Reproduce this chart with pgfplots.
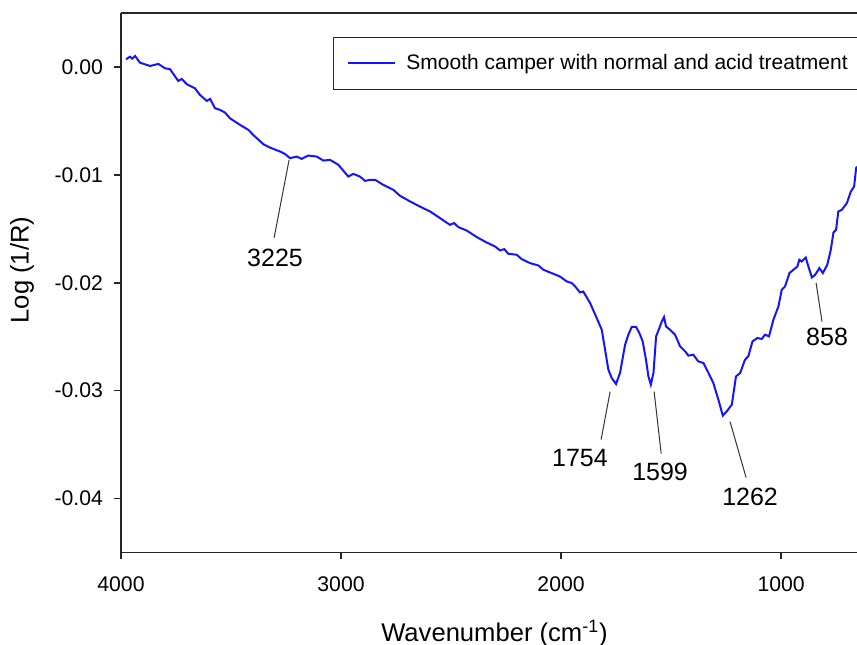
\documentclass[border=0pt]{standalone}
\usepackage{pgfplots}
\pgfplotsset{compat=1.18}
\usepackage{fontspec}
\setmainfont{Liberation Sans}
\begin{document}
\begin{tikzpicture}
\begin{axis}[
  scale only axis,
  width=368pt, height=269.75pt,
  x dir=reverse,
  xmin=655, xmax=4000,
  ymin=-0.045, ymax=0.005,
  axis x line*=box, axis y line*=left,
  xtick pos=bottom, ytick pos=left,
  axis line style={line width=0.8pt, black!85},
  tick style={line width=0.8pt, black!85},
  tick align=outside, major tick length=3.5pt,
  xtick={1000,2000,3000,4000},
  xticklabels={1000,2000,3000,4000},
  ytick={-0.04,-0.03,-0.02,-0.01,0},
  yticklabels={-0.04,-0.03,-0.02,-0.01,0.00},
  /pgf/number format/assume math mode=true,
  ticklabel style={font=\fontsize{10.6}{12}\selectfont},
  xticklabel style={yshift=-5pt},
  yticklabel style={xshift=-2pt},
  xlabel={Wavenumber (cm\textsuperscript{-1})},
  ylabel={Log (1/R)},
  label style={font=\fontsize{12.8}{15}\selectfont},
  xlabel style={at={(axis description cs:0.5075,0)}, anchor=center, yshift=-40.5pt},
  ylabel style={at={(axis description cs:0,0.5236)}, anchor=center, yshift=49.5pt},
  legend style={font=\fontsize{10.5}{12.6}\selectfont, draw=black!85, line width=0.5pt,
    at={(rel axis cs:0.288,0.956)}, anchor=north west, inner xsep=7pt, inner ysep=6.5pt,
    column sep=3pt},
  legend cell align=left,
  legend image code/.code={\draw[#1] (0pt,0pt) -- (23.5pt,0pt);},
]
\addplot[color={rgb,255:red,20;green,20;blue,255}, line width=1pt] coordinates {
(3977,0.00071)(3959,0.00095)(3949,0.00077)(3936,0.00102)(3914,0.00040)(3868,0.00009)
(3830,0.00028)(3800,-0.00012)(3777,-0.00021)(3740,-0.00130)(3724,-0.00111)(3701,-0.00160)
(3664,-0.00198)(3641,-0.00259)(3610,-0.00315)(3595,-0.00296)(3573,-0.00382)(3550,-0.00398)
(3527,-0.00423)(3505,-0.00475)(3459,-0.00537)(3421,-0.00583)(3399,-0.00630)(3353,-0.00716)
(3323,-0.00747)(3277,-0.00784)(3255,-0.00806)(3232,-0.00845)(3201,-0.00831)(3179,-0.00852)
(3149,-0.00821)(3110,-0.00831)(3080,-0.00868)(3050,-0.00861)(3012,-0.00907)(2967,-0.01016)
(2944,-0.00991)(2914,-0.01016)(2891,-0.01056)(2868,-0.01046)(2845,-0.01046)(2808,-0.01093)
(2762,-0.01139)(2732,-0.01194)(2686,-0.01247)(2641,-0.01294)(2595,-0.01340)(2550,-0.01401)
(2505,-0.01463)(2486,-0.01447)(2467,-0.01484)(2429,-0.01516)(2383,-0.01577)(2338,-0.01627)
(2300,-0.01664)(2277,-0.01701)(2258,-0.01688)(2240,-0.01731)(2201,-0.01741)(2179,-0.01781)
(2141,-0.01818)(2103,-0.01840)(2080,-0.01880)(2035,-0.01917)(2005,-0.01942)(1974,-0.01988)
(1951,-0.02003)(1936,-0.02034)(1914,-0.02090)(1899,-0.02081)(1868,-0.02188)(1838,-0.02327)
(1815,-0.02435)(1800,-0.02620)(1785,-0.02806)(1770,-0.02882)(1750,-0.02938)(1732,-0.02836)
(1709,-0.02574)(1694,-0.02481)(1679,-0.02410)(1659,-0.02410)(1644,-0.02466)(1629,-0.02544)
(1614,-0.02713)(1603,-0.02868)(1592,-0.02944)(1580,-0.02836)(1568,-0.02497)(1553,-0.02419)
(1542,-0.02358)(1532,-0.02318)(1523,-0.02405)(1505,-0.02435)(1482,-0.02481)(1459,-0.02590)
(1436,-0.02636)(1421,-0.02676)(1399,-0.02667)(1376,-0.02729)(1353,-0.02744)(1330,-0.02836)
(1308,-0.02929)(1285,-0.03083)(1265,-0.03231)(1247,-0.03192)(1224,-0.03130)(1205,-0.02868)
(1186,-0.02836)(1164,-0.02713)(1149,-0.02682)(1130,-0.02544)(1108,-0.02512)(1088,-0.02521)
(1073,-0.02481)(1055,-0.02497)(1035,-0.02343)(1012,-0.02219)(997,-0.02065)(982,-0.02034)
(962,-0.01910)(944,-0.01880)(926,-0.01849)(917,-0.01787)(906,-0.01803)(888,-0.01766)
(876,-0.01849)(860,-0.01951)(845,-0.01926)(826,-0.01864)(810,-0.01910)(790,-0.01833)
(774,-0.01694)(762,-0.01534)(750,-0.01509)(740,-0.01340)(724,-0.01324)(701,-0.01262)
(683,-0.01155)(668,-0.01108)(659,-0.00938)(655,-0.00923)
};
\addlegendentry{Smooth camper with normal and acid treatment}
\draw[black!80, line width=0.5pt] (axis cs:3236,-0.00861) -- (axis cs:3304,-0.01583);
\draw[black!80, line width=0.5pt] (axis cs:1777,-0.03009) -- (axis cs:1818,-0.03454);
\draw[black!80, line width=0.5pt] (axis cs:1577,-0.03009) -- (axis cs:1545,-0.03583);
\draw[black!80, line width=0.5pt] (axis cs:1232,-0.03287) -- (axis cs:1159,-0.03806);
\draw[black!80, line width=0.5pt] (axis cs:841,-0.02000) -- (axis cs:814,-0.02361);
\begin{scope}[every node/.style={font=\fontsize{12.5}{15}\selectfont, inner sep=0pt}]
\node at (axis cs:3300,-0.01769) {3225};
\node at (axis cs:1914,-0.03620) {1754};
\node at (axis cs:1550,-0.03750) {1599};
\node at (axis cs:1141,-0.03981) {1262};
\node at (axis cs:791,-0.02500) {858};
\end{scope}
\end{axis}
\pgfresetboundingbox
\path[use as bounding box] ([shift={(-60.5pt,-46.25pt)}]current axis.south west) rectangle ([shift={(0pt,6.5pt)}]current axis.north east);
\end{tikzpicture}
\end{document}
